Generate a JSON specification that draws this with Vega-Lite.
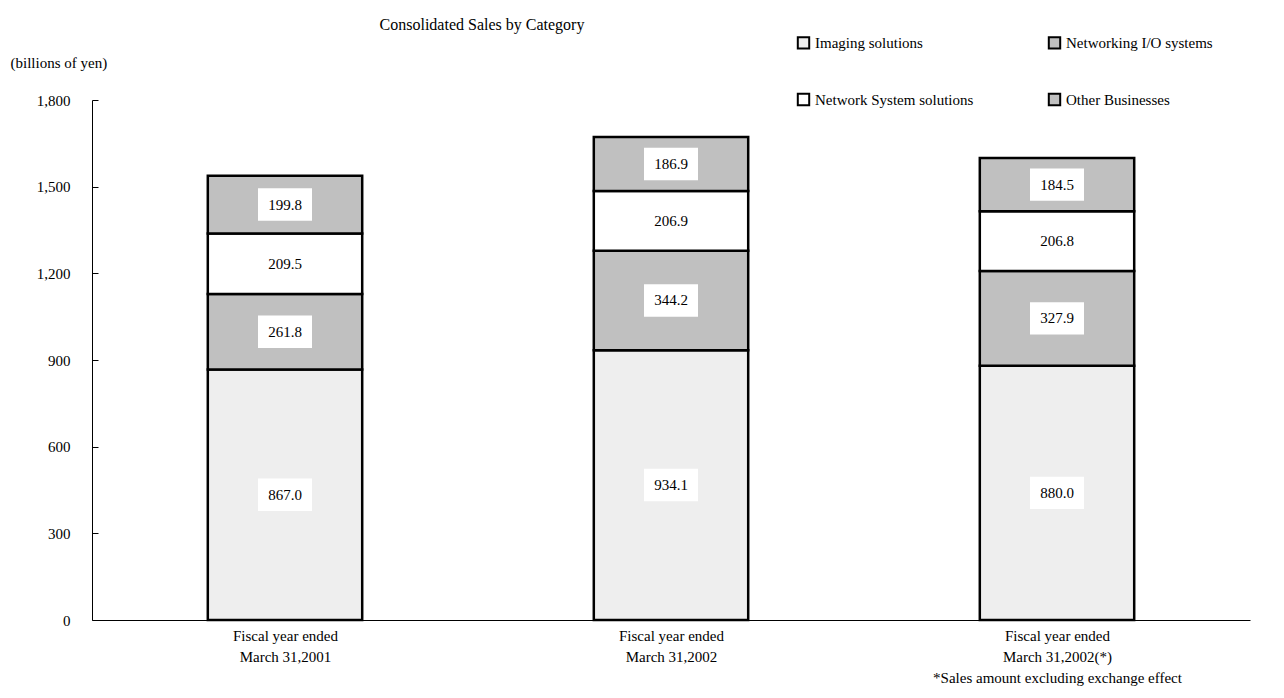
{
  "$schema": "https://vega.github.io/schema/vega-lite/v6.json",
  "width": 1158,
  "height": 520,
  "autosize": {"type": "none"},
  "padding": {"left": 92, "top": 100, "right": 34, "bottom": 78},
  "background": "white",
  "config": {"view": {"stroke": null}, "font": "Liberation Serif"},
  "title": {"text": "Consolidated Sales by Category", "frame": "group", "fontSize": 16, "fontWeight": "normal", "font": "Liberation Serif", "color": "#000000", "anchor": "middle", "dx": -189, "offset": 2},
  "data": {
    "values": [
      {"period": "Fiscal year ended|March 31,2001", "category": "Imaging solutions", "value": 867.0, "order": 1},
      {"period": "Fiscal year ended|March 31,2001", "category": "Networking I/O systems", "value": 261.8, "order": 2},
      {"period": "Fiscal year ended|March 31,2001", "category": "Network System solutions", "value": 209.5, "order": 3},
      {"period": "Fiscal year ended|March 31,2001", "category": "Other Businesses", "value": 199.8, "order": 4},
      {"period": "Fiscal year ended|March 31,2002", "category": "Imaging solutions", "value": 934.1, "order": 1},
      {"period": "Fiscal year ended|March 31,2002", "category": "Networking I/O systems", "value": 344.2, "order": 2},
      {"period": "Fiscal year ended|March 31,2002", "category": "Network System solutions", "value": 206.9, "order": 3},
      {"period": "Fiscal year ended|March 31,2002", "category": "Other Businesses", "value": 186.9, "order": 4},
      {"period": "Fiscal year ended|March 31,2002(*)|*Sales amount excluding exchange effect", "category": "Imaging solutions", "value": 880.0, "order": 1},
      {"period": "Fiscal year ended|March 31,2002(*)|*Sales amount excluding exchange effect", "category": "Networking I/O systems", "value": 327.9, "order": 2},
      {"period": "Fiscal year ended|March 31,2002(*)|*Sales amount excluding exchange effect", "category": "Network System solutions", "value": 206.8, "order": 3},
      {"period": "Fiscal year ended|March 31,2002(*)|*Sales amount excluding exchange effect", "category": "Other Businesses", "value": 184.5, "order": 4}
    ]
  },
  "transform": [
    {"stack": "value", "groupby": ["period"], "sort": [{"field": "order", "order": "ascending"}], "as": ["y0", "y1"]},
    {"calculate": "(datum.y0 + datum.y1) / 2", "as": "mid"}
  ],
  "encoding": {
    "x": {
      "field": "period", "type": "nominal", "sort": null,
      "scale": {"paddingInner": 0.6, "paddingOuter": 0.3},
      "axis": {
        "title": null, "labelAngle": 0, "labelExpr": "split(datum.label, '|')",
        "labelFontSize": 15, "labelColor": "#000000", "labelLineHeight": 21, "labelPadding": 14, "labelBaseline": "top",
        "tickBand": "extent", "tickSize": -6, "tickColor": "#000000", "domainColor": "#000000", "labelLimit": 400
      }
    }
  },
  "layer": [
    {
      "mark": {"type": "bar", "stroke": "#000000", "strokeWidth": 2.5},
      "encoding": {
        "y": {
          "field": "y0", "type": "quantitative",
          "scale": {"domain": [0, 1800], "nice": false},
          "axis": {
            "values": [0, 300, 600, 900, 1200, 1500, 1800], "format": ",.0f", "grid": false,
            "labelFontSize": 15, "labelColor": "#000000", "labelPadding": 28, "tickSize": -6, "tickColor": "#000000", "domainColor": "#000000",
            "title": "(billions of yen)", "titleAngle": 0, "titleAlign": "left", "titleBaseline": "middle", "titleX": -82, "titleY": -38,
            "titleFontSize": 15, "titleFontWeight": "normal", "titleColor": "#000000"
          }
        },
        "y2": {"field": "y1"},
        "fill": {
          "field": "category", "type": "nominal",
          "scale": {"domain": ["Imaging solutions", "Networking I/O systems", "Network System solutions", "Other Businesses"], "range": ["#eeeeee", "#c0c0c0", "#ffffff", "#c0c0c0"]},
          "legend": {
            "title": null, "orient": "none", "legendX": 704, "legendY": -65, "columns": 2, "direction": "horizontal",
            "symbolType": "square", "symbolStrokeColor": "#000000", "symbolStrokeWidth": 2, "symbolSize": 130, "symbolOpacity": 1,
            "labelFontSize": 15, "labelColor": "#000000", "rowPadding": 36, "columnPadding": 70, "labelOffset": 4, "labelLimit": 300
          }
        }
      }
    },
    {
      "mark": {"type": "point", "shape": "M-1,-0.6L1,-0.6L1,0.6L-1,0.6Z", "filled": true, "fill": "#ffffff", "opacity": 1, "strokeWidth": 0, "size": 2916},
      "encoding": {"y": {"field": "mid", "type": "quantitative"}}
    },
    {
      "mark": {"type": "text", "fontSize": 15, "color": "#000000", "baseline": "middle", "align": "center"},
      "encoding": {
        "y": {"field": "mid", "type": "quantitative"},
        "text": {"field": "value", "type": "quantitative", "format": ".1f"}
      }
    }
  ]
}
